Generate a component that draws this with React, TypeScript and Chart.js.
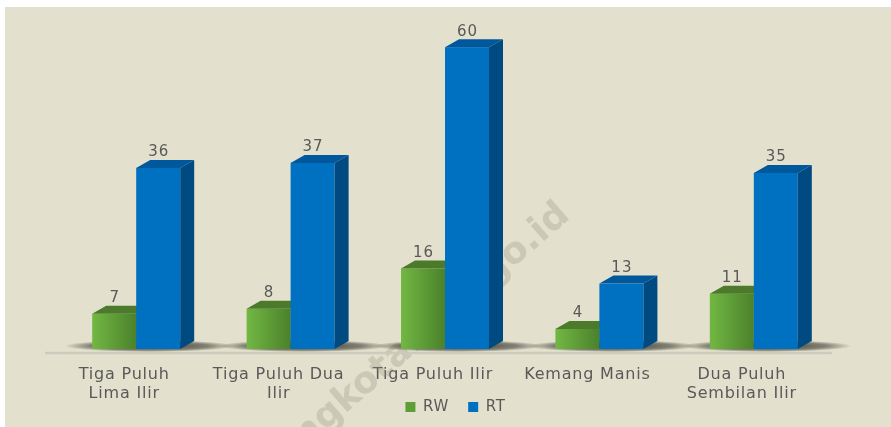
import React, { useEffect, useRef } from "react";
import { Chart, registerables } from "chart.js";

Chart.register(...registerables);

const categories: (string | string[])[] = [
  ["Tiga Puluh", "Lima Ilir"],
  ["Tiga Puluh Dua", "Ilir"],
  "Tiga Puluh Ilir",
  "Kemang Manis",
  ["Dua Puluh", "Sembilan Ilir"],
];
const seriesNames = ["RW", "RT"];
const rwValues = [7, 8, 16, 4, 11];
const rtValues = [36, 37, 60, 13, 35];
const watermarkText = "palembangkota.bps.go.id";

const DX = 14;
const DY = 8;
const FONT = "'DejaVu Sans', sans-serif";
const TEXT_COLOR = "#595959";

const palettes = [
  { frontL: "#72B843", frontR: "#4B812B", top: "#4A7A2A", side: "#3C6522" },
  { frontL: "#0070C0", frontR: "#0070C0", top: "#00589C", side: "#004A82" },
];

function drawBar(ctx: CanvasRenderingContext2D, el: any, pal: any) {
  const left = el.x - el.width / 2;
  const right = el.x + el.width / 2;
  const top = el.y;
  const base = el.base;
  const g = ctx.createLinearGradient(left, 0, right, 0);
  g.addColorStop(0, pal.frontL);
  g.addColorStop(1, pal.frontR);
  ctx.fillStyle = g;
  ctx.fillRect(left, top, right - left, base - top);
  ctx.fillStyle = pal.top;
  ctx.beginPath();
  ctx.moveTo(left, top);
  ctx.lineTo(right, top);
  ctx.lineTo(right + DX, top - DY);
  ctx.lineTo(left + DX, top - DY);
  ctx.closePath();
  ctx.fill();
  ctx.fillStyle = pal.side;
  ctx.beginPath();
  ctx.moveTo(right, top);
  ctx.lineTo(right + DX, top - DY);
  ctx.lineTo(right + DX, base - DY);
  ctx.lineTo(right, base);
  ctx.closePath();
  ctx.fill();
}

const threeDPlugin = {
  id: "threeD",
  afterLayout(chart: any) {
    const s = chart.scales.x;
    s.bottom = s.top + 70;
    if (chart.legend) {
      chart.legend.left += 9;
      chart.legend.right += 9;
    }
  },
  beforeDraw(chart: any) {
    (chart.ctx as any).letterSpacing = "0.8px";
  },
  beforeDatasetsDraw(chart: any) {
    const ctx: CanvasRenderingContext2D = chart.ctx;
    const area = chart.chartArea;
    const m0 = chart.getDatasetMeta(0);
    const m1 = chart.getDatasetMeta(1);
    const base = m0.data[0].base;

    ctx.save();
    // watermark
    ctx.save();
    (ctx as any).letterSpacing = "0px";
    ctx.translate(560, 203);
    ctx.rotate((-41 * Math.PI) / 180);
    ctx.font = `bold 37px ${FONT}`;
    ctx.textAlign = "right";
    ctx.textBaseline = "middle";
    ctx.fillStyle = "rgba(140,138,120,0.28)";
    ctx.fillText(watermarkText, 0, 0);
    ctx.restore();

    // floor line
    ctx.strokeStyle = "#CBCABC";
    ctx.lineWidth = 2.5;
    ctx.lineCap = "round";
    ctx.beginPath();
    ctx.moveTo(area.left - 13, base + 4);
    ctx.lineTo(area.right, base + 4);
    ctx.stroke();

    // shadows
    for (let i = 0; i < m0.data.length; i++) {
      const a = m0.data[i];
      const b = m1.data[i];
      const l = a.x - a.width / 2;
      const r = b.x + b.width / 2 + DX;
      const cx = (l + r) / 2 + 6;
      const cy = base - 3;
      const rx = (r - l) / 2 + 34;
      const ry = 6;
      ctx.save();
      ctx.translate(cx, cy);
      ctx.scale(rx, ry);
      const rg = ctx.createRadialGradient(0, 0, 0, 0, 0, 1);
      rg.addColorStop(0, "rgba(35,35,30,0.9)");
      rg.addColorStop(0.7, "rgba(35,35,30,0.5)");
      rg.addColorStop(1, "rgba(35,35,30,0)");
      ctx.fillStyle = rg;
      ctx.beginPath();
      ctx.arc(0, 0, 1, 0, Math.PI * 2);
      ctx.fill();
      ctx.restore();
    }

    // bars
    for (let i = 0; i < m0.data.length; i++) {
      drawBar(ctx, m0.data[i], palettes[0]);
      drawBar(ctx, m1.data[i], palettes[1]);
    }

    // value labels
    (ctx as any).letterSpacing = "1px";
    ctx.font = `15px ${FONT}`;
    ctx.fillStyle = TEXT_COLOR;
    ctx.textAlign = "center";
    ctx.textBaseline = "bottom";
    [m0, m1].forEach((m: any, di: number) => {
      const vals = di === 0 ? rwValues : rtValues;
      m.data.forEach((el: any, i: number) => {
        ctx.fillText(String(vals[i]), el.x + 0.5, el.y - DY);
      });
    });
    ctx.restore();
    return false;
  },
};

export default function App() {
  const ref = useRef<HTMLCanvasElement>(null);
  useEffect(() => {
    const chart = new Chart(ref.current!, {
      type: "bar",
      data: {
        labels: categories as any,
        datasets: [
          {
            label: seriesNames[0],
            data: rwValues,
            backgroundColor: "#5E9E36",
            categoryPercentage: 0.57,
            barPercentage: 1,
          },
          {
            label: seriesNames[1],
            data: rtValues,
            backgroundColor: "#0070C0",
            categoryPercentage: 0.57,
            barPercentage: 1,
          },
        ],
      },
      options: {
        responsive: false,
        devicePixelRatio: 1,
        animation: false,
        layout: { padding: { left: 54, right: 60, top: 10, bottom: 2.5 } },
        scales: {
          x: {
            grid: { display: false, drawTicks: false },
            border: { display: false },
            ticks: {
              color: TEXT_COLOR,
              font: { size: 16, family: FONT },
              padding: 16,
              labelOffset: -12,
              maxRotation: 0,
              autoSkip: false,
            },
            afterFit: (s: any) => {
              s.height = 31.5;
            },
          },
          y: { display: false, min: 0, max: 66 },
        },
        plugins: {
          legend: {
            position: "bottom",
            labels: {
              boxWidth: 10,
              boxHeight: 10,
              padding: 19,
              color: TEXT_COLOR,
              font: { size: 15, family: FONT },
            },
          },
          tooltip: { enabled: false },
        },
      },
      plugins: [threeDPlugin],
    } as any);
    return () => chart.destroy();
  }, []);
  return (
    <div
      style={{
        position: "absolute",
        left: 0,
        top: 0,
        width: 891,
        height: 427,
        background: "#fff",
        overflow: "hidden",
      }}
    >
      <canvas
        ref={ref}
        width={886}
        height={420}
        style={{
          position: "absolute",
          left: 5,
          top: 7,
          width: 886,
          height: 420,
          background: "#E3E1CD",
        }}
      />
    </div>
  );
}
